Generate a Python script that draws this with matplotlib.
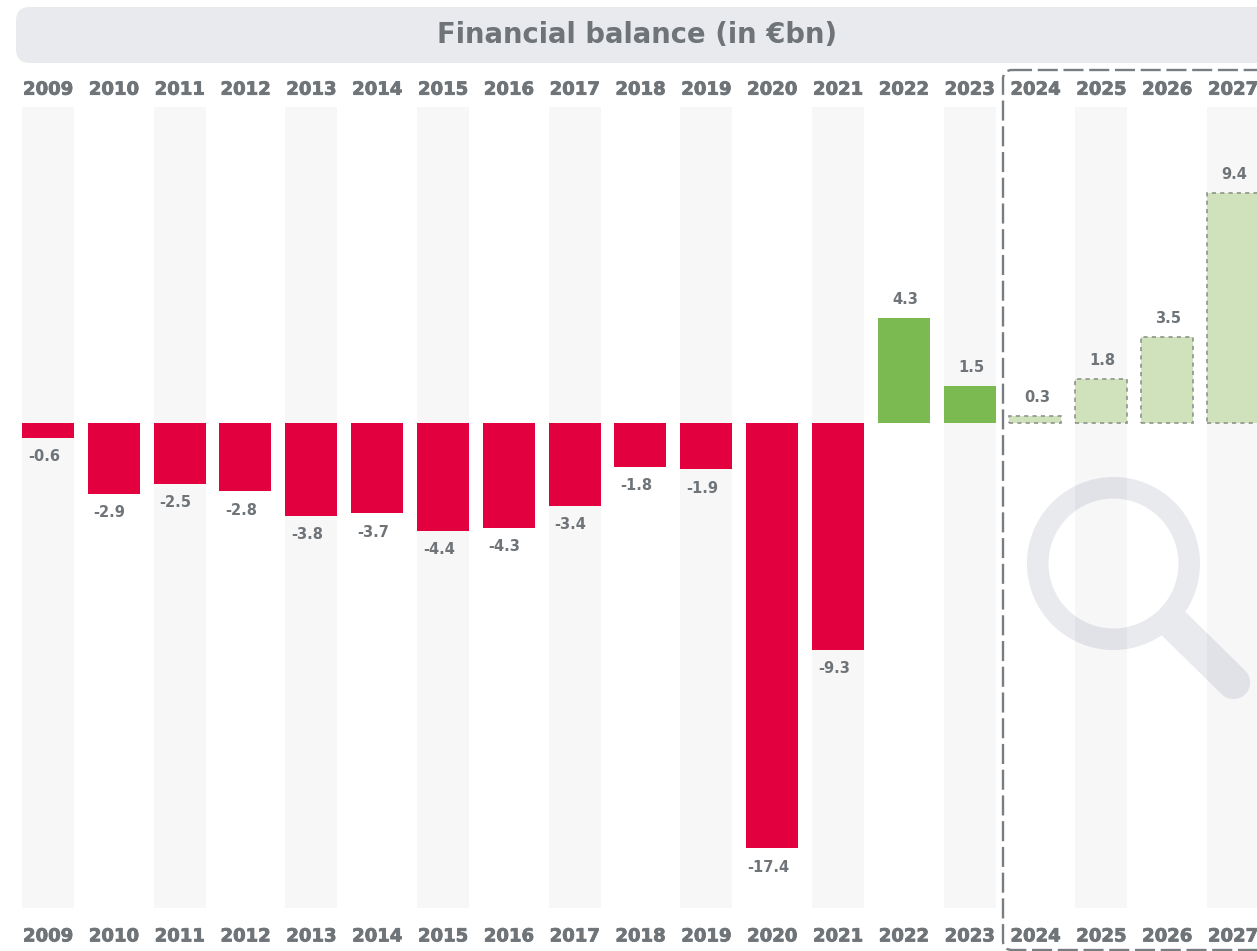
import matplotlib.pyplot as plt
import matplotlib.patheffects as pe
from matplotlib.patches import Circle, FancyBboxPatch

years = list(range(2009, 2028))
balance = [-0.6, -2.9, -2.5, -2.8, -3.8, -3.7, -4.4, -4.3, -3.4, -1.8, -1.9,
           -17.4, -9.3, 4.3, 1.5, 0.3, 1.8, 3.5, 9.4]
first_forecast = 2024

GREY = '#6f7479'
RED = '#e2003f'
GREEN = '#7aba50'
LIGHT_GREEN = '#d0e2bb'
PANEL = '#e9eaee'

plt.rcParams['font.family'] = ['DejaVu Sans']

W, H = 1257, 951
fig = plt.figure(figsize=(W / 100, H / 100), dpi=100)
heavy = [pe.withStroke(linewidth=0.6, foreground=GREY)]

# background layer in pixel coordinates: title panel, magnifier, forecast frame
bg = fig.add_axes([0, 0, 1, 1], zorder=0)
bg.set_xlim(0, W)
bg.set_ylim(H, 0)
bg.axis('off')
bg.add_patch(FancyBboxPatch((16, 7), 1300, 56, boxstyle='round,pad=0,rounding_size=14',
                            fc=PANEL, ec='none'))
bg.text(637, 35, 'Financial balance (in €bn)', ha='center', va='center',
        fontsize=19.8, fontweight='bold', color=GREY)
bg.add_patch(FancyBboxPatch((1003, 70), 320, 880, boxstyle='round,pad=0,rounding_size=9',
                            fc='none', ec='#787d82', lw=1.7, ls=(0, (8.5, 2.4))))
bg.add_patch(Circle((1113.5, 563.5), 75.75, fc='none', ec=PANEL, lw=15.5))
bg.plot([1175, 1233.5], [625, 682.5], color=PANEL, lw=24, solid_capstyle='round')

ax = fig.add_axes([0, 43 / H, 1, 801 / H], zorder=1)
ax.patch.set_alpha(0)
ax.set_xlim(2009 - 48 / 65.83, 2009 + (W - 48) / 65.83)
ax.set_ylim(-485 / 24.45, 316 / 24.45)
for s in ax.spines.values():
    s.set_visible(False)

# translucent bands so the magnifier shows through them
for y in years[::2]:
    ax.axvspan(y - 0.395, y + 0.395, color='#20203a', lw=0, zorder=0, alpha=0.035)

for y, v in zip(years, balance):
    if y >= first_forecast:
        ax.bar(y, v, 0.79, color=LIGHT_GREEN, ec='#8d948a', lw=1.2, ls=(0, (2.5, 2.5)), zorder=2)
    else:
        ax.bar(y, v, 0.79, color=RED if v < 0 else GREEN, zorder=2)
    offset = (1, 8) if v > 0 else (-3, -8)
    ax.annotate(str(v), (y, v), xytext=offset, textcoords='offset points',
                ha='center', va='bottom' if v > 0 else 'top',
                fontsize=10.5, fontweight='bold', color=GREY)

ax.set_xticks(years)
ax.set_xticklabels(years, fontsize=13, fontweight='bold', color=GREY, path_effects=heavy)
ax.set_yticks([])
ax.tick_params(axis='x', length=0, pad=14)

top = ax.secondary_xaxis('top')
top.set_xticks(years)
top.set_xticklabels(years, fontsize=13, fontweight='bold', color=GREY, path_effects=heavy)
top.tick_params(axis='x', length=0, pad=6)
top.spines['top'].set_visible(False)

fig.savefig('out.png', dpi=100)
